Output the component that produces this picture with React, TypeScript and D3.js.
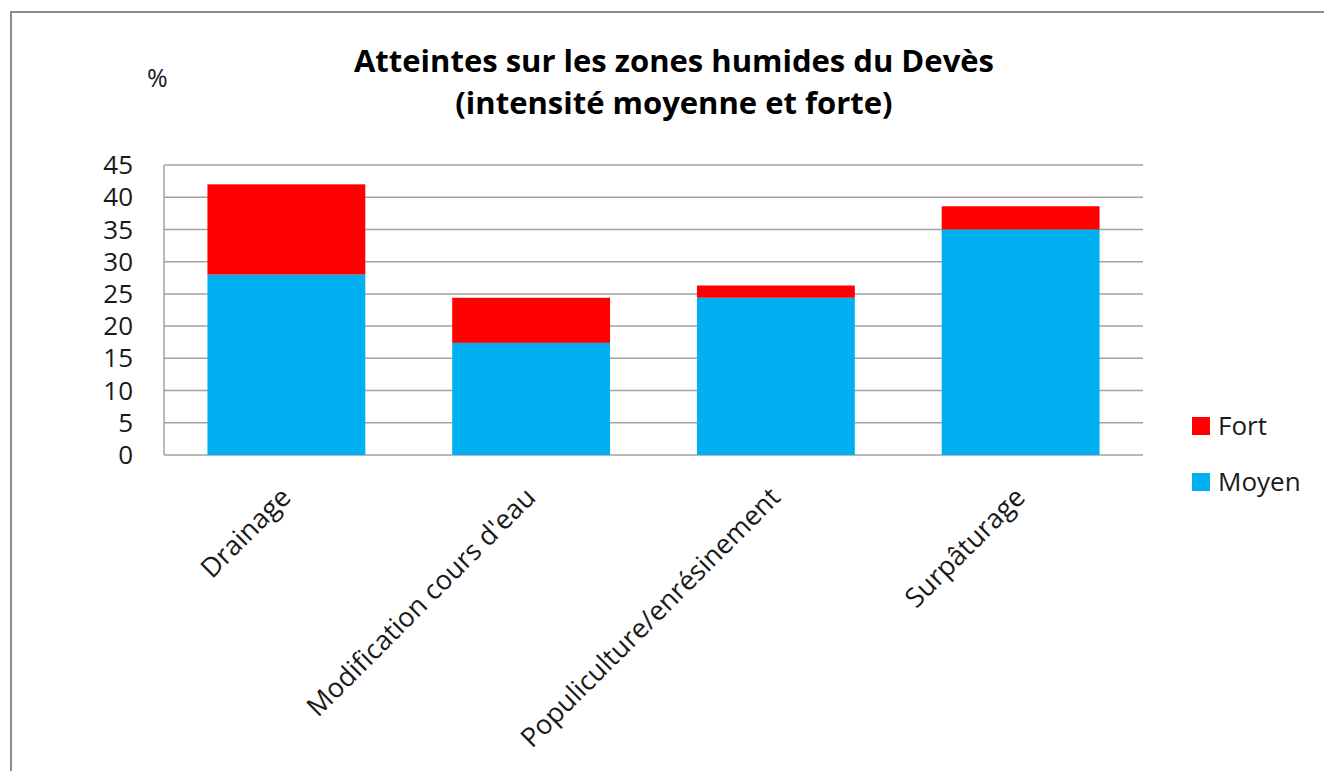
import * as d3 from 'd3';

const categories = ['Drainage', "Modification cours d'eau", 'Populiculture/enrésinement', 'Surpâturage'];
const moyen = [28, 17.4, 24.4, 35];
const fort = [14, 7, 1.9, 3.6];
const yTicks = [0, 5, 10, 15, 20, 25, 30, 35, 40, 45];
const seriesNames = ['Moyen', 'Fort'];
const seriesColors = ['#00B0F0', '#FF0000'];

const W = 1324;
const H = 771;
const plot = { left: 164, right: 1143, top: 165, bottom: 455 };
const font = '"Open Sans", sans-serif';

export default function App() {
  const rows = categories.map((c, i) => ({ cat: c, Moyen: moyen[i], Fort: fort[i] }));
  const stacked = d3.stack<any>().keys(seriesNames)(rows);

  const x = d3
    .scaleBand()
    .domain(categories)
    .range([plot.left, plot.right])
    .paddingInner(0.355)
    .paddingOuter(0.1775);

  const y = d3.scaleLinear().domain([0, 45]).range([plot.bottom, plot.top]);

  return (
    <div style={{ position: 'fixed', left: 0, top: 0 }}>
      <svg width={W} height={H} style={{ display: 'block', background: '#fff' }}>
        {/* chart frame */}
        <rect x={11} y={12} width={W + 20} height={H + 20} fill="none" stroke="#8c8c8c" strokeWidth={2} />

        <text x={674} y={72} textAnchor="middle" fontFamily={font} fontWeight="bold" fontSize={31} fill="#000">
          Atteintes sur les zones humides du Devès
        </text>
        <text x={674} y={114} textAnchor="middle" fontFamily={font} fontWeight="bold" fontSize={31} fill="#000">
          (intensité moyenne et forte)
        </text>
        <text x={147} y={87} fontFamily={font} fontSize={25} fill="#1a1a1a">
          %
        </text>

        {/* grid */}
        {yTicks.map((t) => (
          <line key={t} x1={plot.left} x2={plot.right} y1={y(t)} y2={y(t)} stroke="#a3a3a3" strokeWidth={1.5} />
        ))}
        <line x1={plot.left} x2={plot.left} y1={plot.top} y2={plot.bottom} stroke="#a3a3a3" strokeWidth={1.5} />

        {/* bars */}
        {stacked.map((s, si) => (
          <g key={s.key} fill={seriesColors[si]}>
            {s.map((d: any) => (
              <rect
                key={d.data.cat}
                x={x(d.data.cat)}
                y={y(d[1])}
                width={x.bandwidth()}
                height={y(d[0]) - y(d[1])}
              />
            ))}
          </g>
        ))}

        {/* y labels */}
        {yTicks.map((t) => (
          <text
            key={t}
            x={133}
            y={y(t)}
            dy="0.35em"
            textAnchor="end"
            fontFamily={font}
            fontSize={26}
            fill="#1a1a1a"
          >
            {t}
          </text>
        ))}

        {/* x labels */}
        {categories.map((c) => (
          <text
            key={c}
            transform={`translate(${x(c)! + x.bandwidth() / 2 + 6},${plot.bottom + 44}) rotate(-45)`}
            textAnchor="end"
            fontFamily={font}
            fontSize={27}
            fill="#1a1a1a"
          >
            {c}
          </text>
        ))}

        {/* legend */}
        {['Fort', 'Moyen'].map((name, i) => (
          <g key={name} transform={`translate(1192,${417 + i * 56})`}>
            <rect width={18} height={18} fill={seriesColors[seriesNames.indexOf(name)]} />
            <text x={26} y={9} dy="0.35em" fontFamily={font} fontSize={26} fill="#1a1a1a">
              {name}
            </text>
          </g>
        ))}
      </svg>
    </div>
  );
}
